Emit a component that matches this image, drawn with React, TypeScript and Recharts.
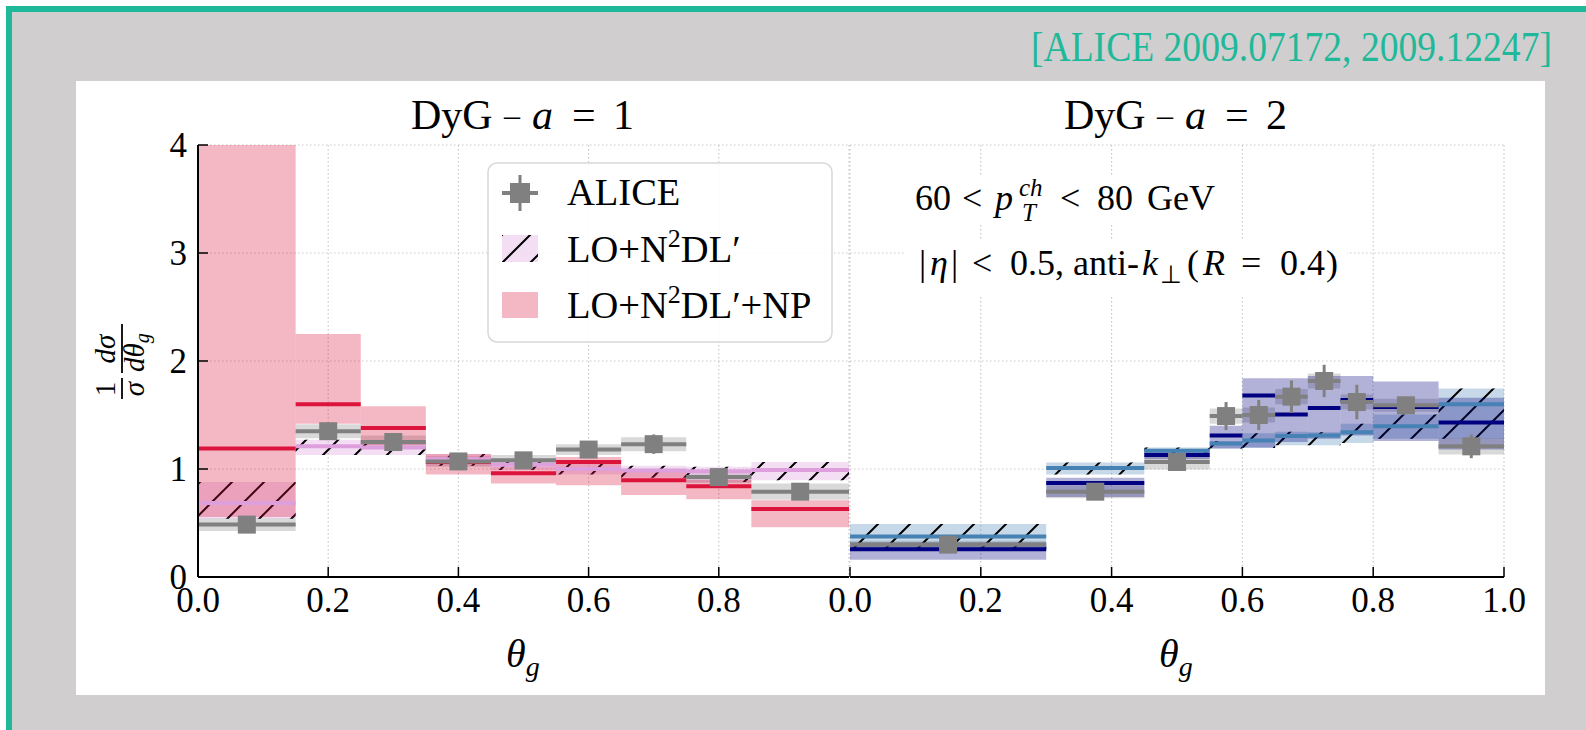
import React from 'react';
import {
  ComposedChart,
  XAxis,
  YAxis,
  CartesianGrid,
  ReferenceArea,
  ReferenceLine,
  Scatter,
  ErrorBar,
} from 'recharts';

const FONT = '"Liberation Serif", "Times New Roman", serif';
const TEAL = '#1fb99a';

// DyG, a = 1
const EDGES_A1 = [0, 0.15, 0.25, 0.35, 0.45, 0.55, 0.65, 0.75, 0.85, 1.0];
const ALICE_A1 = [0.485, 1.35, 1.25, 1.07, 1.08, 1.18, 1.23, 0.925, 0.79];
const ALICE_A1_STAT = [0.04, 0.05, 0.05, 0.04, 0.05, 0.06, 0.09, 0.06, 0.07];
const ALICE_A1_SYS = [0.06, 0.065, 0.06, 0.05, 0.05, 0.05, 0.065, 0.055, 0.075];
const LO_A1 = [0.685, 1.21, 1.2, 1.09, 1.04, 1.0, 0.985, 0.98, 0.99];
const LO_A1_LOW = [0.54, 1.13, 1.13, 1.03, 0.99, 0.95, 0.92, 0.88, 0.895];
const LO_A1_HIGH = [0.88, 1.27, 1.26, 1.14, 1.08, 1.05, 1.03, 1.02, 1.065];
const NP_A1 = [1.19, 1.6, 1.38, 1.065, 0.96, 1.065, 0.895, 0.84, 0.63];
const NP_A1_LOW = [0.555, 1.42, 1.22, 0.95, 0.865, 0.85, 0.76, 0.72, 0.46];
const NP_A1_HIGH = [4.0, 2.25, 1.58, 1.14, 1.02, 1.11, 1.0, 0.9, 0.71];

// DyG, a = 2
const EDGES_A2 = [0, 0.3, 0.45, 0.55, 0.6, 0.65, 0.7, 0.75, 0.8, 0.9, 1.0];
const ALICE_A2 = [0.3, 0.79, 1.065, 1.49, 1.5, 1.67, 1.815, 1.62, 1.59, 1.21];
const ALICE_A2_STAT = [0.03, 0.04, 0.05, 0.13, 0.14, 0.15, 0.15, 0.16, 0.07, 0.11];
const ALICE_A2_SYS = [0.035, 0.06, 0.07, 0.07, 0.07, 0.07, 0.07, 0.07, 0.06, 0.075];
const LO_A2 = [0.375, 1.01, 1.17, 1.235, 1.265, 1.305, 1.31, 1.34, 1.395, 1.6];
const LO_A2_LOW = [0.25, 0.95, 1.14, 1.19, 1.195, 1.22, 1.22, 1.24, 1.28, 1.28];
const LO_A2_HIGH = [0.49, 1.06, 1.2, 1.26, 1.33, 1.345, 1.34, 1.42, 1.505, 1.745];
const NP_A2 = [0.256, 0.87, 1.13, 1.31, 1.68, 1.505, 1.565, 1.64, 1.575, 1.43];
const NP_A2_LOW = [0.16, 0.74, 1.09, 1.19, 1.2, 1.25, 1.28, 1.31, 1.26, 1.18];
const NP_A2_HIGH = [0.32, 0.92, 1.17, 1.4, 1.84, 1.84, 1.86, 1.86, 1.81, 1.66];

const X_TICKS_LEFT = [0, 0.2, 0.4, 0.6, 0.8];
const X_TICKS_RIGHT = [0, 0.2, 0.4, 0.6, 0.8, 1.0];
const Y_TICKS = [0, 1, 2, 3, 4];

type Bin = { lo: number; hi: number; c: number; low: number; high: number };
type Pt = { x: number; y: number; ex: number; ey: number; lo: number; hi: number; sys: number };

const makeBins = (edges: number[], c: number[], low: number[], high: number[]): Bin[] =>
  c.map((v, i) => ({ lo: edges[i], hi: edges[i + 1], c: v, low: low[i], high: high[i] }));

const makePoints = (edges: number[], vals: number[], stat: number[], sys: number[]): Pt[] =>
  vals.map((y, i) => ({
    x: (edges[i] + edges[i + 1]) / 2,
    y,
    ex: (edges[i + 1] - edges[i]) / 2,
    ey: stat[i],
    lo: edges[i],
    hi: edges[i + 1],
    sys: sys[i],
  }));

const Square = (props: any) => {
  const { cx, cy } = props;
  return <rect x={cx - 9} y={cy - 9} width={18} height={18} fill="#808080" />;
};

const axisLine = { stroke: '#000', strokeWidth: 2 };
const tickLine = { stroke: '#000', strokeWidth: 1.5 };
const tickStyle = { fontSize: 35, fontFamily: FONT, fill: '#000', style: { fontFamily: FONT } };

type PanelProps = {
  id: string;
  width: number;
  margin: { top: number; right: number; bottom: number; left: number };
  yAxisWidth: number;
  showYLabels: boolean;
  xTicks: number[];
  points: Pt[];
  lo: Bin[];
  np: Bin[];
  loFill: string;
  loOpacity: number;
  loLine: string;
  npFill: string;
  npOpacity: number;
  npLine: string;
};

const Panel = (p: PanelProps) => (
  <ComposedChart width={p.width} height={600} margin={p.margin}>
    <defs>
      <pattern id={`hatch-${p.id}`} patternUnits="userSpaceOnUse" width={32} height={32}>
        <path d="M-8,8 L8,-8 M0,32 L32,0 M24,40 L40,24" stroke="#000" strokeWidth={2} />
      </pattern>
    </defs>
    <CartesianGrid stroke="#c8c8c8" strokeDasharray="1.5 2.5" strokeWidth={1.2} />
    <XAxis
      dataKey="x"
      type="number"
      domain={[0, 1]}
      ticks={p.xTicks}
      interval={0}
      allowDataOverflow
      height={60}
      tickSize={-10}
      tickMargin={20}
      tickFormatter={(v: number) => v.toFixed(1)}
      tick={tickStyle}
      axisLine={axisLine}
      tickLine={tickLine}
    />
    <XAxis
      xAxisId="top"
      orientation="top"
      type="number"
      domain={[0, 1]}
      ticks={p.xTicks}
      interval={0}
      allowDataOverflow
      height={0}
      tickSize={-10}
      tickFormatter={() => ''}
      axisLine={axisLine}
      tickLine={tickLine}
    />
    <YAxis
      dataKey="y"
      type="number"
      domain={[0, 4]}
      ticks={Y_TICKS}
      interval={0}
      allowDataOverflow
      width={p.yAxisWidth}
      tickSize={-10}
      tickMargin={21}
      tickFormatter={p.showYLabels ? (v: number) => String(v) : () => ''}
      tick={tickStyle}
      axisLine={axisLine}
      tickLine={tickLine}
    />
    <YAxis
      yAxisId="right"
      orientation="right"
      type="number"
      domain={[0, 4]}
      ticks={Y_TICKS}
      interval={0}
      allowDataOverflow
      width={0}
      tickSize={-10}
      tickFormatter={() => ''}
      axisLine={axisLine}
      tickLine={tickLine}
    />

    {p.points.map((d, i) => (
      <ReferenceArea
        key={`sys-${i}`}
        x1={d.lo}
        x2={d.hi}
        y1={d.y - d.sys}
        y2={d.y + d.sys}
        fill="#808080"
        fillOpacity={0.3}
        stroke="none"
      />
    ))}
    {p.lo.map((b, i) => (
      <ReferenceArea key={`lo-${i}`} x1={b.lo} x2={b.hi} y1={b.low} y2={b.high} fill={p.loFill} fillOpacity={p.loOpacity} stroke="none" />
    ))}
    {p.lo.map((b, i) => (
      <ReferenceArea key={`loh-${i}`} x1={b.lo} x2={b.hi} y1={b.low} y2={b.high} fill={`url(#hatch-${p.id})`} fillOpacity={1} stroke="none" />
    ))}
    {p.lo.map((b, i) => (
      <ReferenceLine
        key={`lol-${i}`}
        segment={[
          { x: b.lo, y: b.c },
          { x: b.hi, y: b.c },
        ]}
        stroke={p.loLine}
        strokeWidth={4}
      />
    ))}
    {p.np.map((b, i) => (
      <ReferenceArea key={`np-${i}`} x1={b.lo} x2={b.hi} y1={b.low} y2={b.high} fill={p.npFill} fillOpacity={p.npOpacity} stroke="none" />
    ))}
    {p.np.map((b, i) => (
      <ReferenceLine
        key={`npl-${i}`}
        segment={[
          { x: b.lo, y: b.c },
          { x: b.hi, y: b.c },
        ]}
        stroke={p.npLine}
        strokeWidth={4}
      />
    ))}

    <Scatter data={p.points} fill="#808080" shape={Square} isAnimationActive={false}>
      <ErrorBar dataKey="ex" direction="x" width={0} stroke="#808080" strokeWidth={4} isAnimationActive={false} />
      <ErrorBar dataKey="ey" direction="y" width={0} stroke="#808080" strokeWidth={3} isAnimationActive={false} />
    </Scatter>
  </ComposedChart>
);

const Title = ({ cx, n }: { cx: number; n: string }) => (
  <text y={129} fontSize={42} fill="#000">
    <tspan x={cx - 113}>DyG</tspan>
    <tspan x={cx - 20} fontSize={32} dy={-3}>–</tspan>
    <tspan x={cx + 8} dy={3} fontStyle="italic">a</tspan>
    <tspan x={cx + 48}>=</tspan>
    <tspan x={cx + 89}>{n}</tspan>
  </text>
);

const ThetaLabel = ({ cx }: { cx: number }) => (
  <text x={cx - 18} y={667} fontSize={40} fontStyle="italic" fill="#000">
    θ<tspan fontSize={28} dy={9}>g</tspan>
  </text>
);

export default function App() {
  const ptsA1 = makePoints(EDGES_A1, ALICE_A1, ALICE_A1_STAT, ALICE_A1_SYS);
  const loA1 = makeBins(EDGES_A1, LO_A1, LO_A1_LOW, LO_A1_HIGH);
  const npA1 = makeBins(EDGES_A1, NP_A1, NP_A1_LOW, NP_A1_HIGH);
  const ptsA2 = makePoints(EDGES_A2, ALICE_A2, ALICE_A2_STAT, ALICE_A2_SYS);
  const loA2 = makeBins(EDGES_A2, LO_A2, LO_A2_LOW, LO_A2_HIGH);
  const npA2 = makeBins(EDGES_A2, NP_A2, NP_A2_LOW, NP_A2_HIGH);

  return (
    <div style={{ position: 'absolute', left: 0, top: 0, width: 1586, height: 730, background: '#fff', overflow: 'hidden', fontFamily: FONT }}>
      <div style={{ position: 'absolute', left: 6, top: 6, right: 0, bottom: 0, background: TEAL }} />
      <div style={{ position: 'absolute', left: 12, top: 12, right: 0, bottom: 0, background: '#d0cecf' }} />
      <div style={{ position: 'absolute', left: 76, top: 81, width: 1469, height: 614, background: '#fff' }} />

      <div style={{ position: 'absolute', left: 80, top: 90 }}>
        <Panel
          id="a1"
          width={790}
          margin={{ top: 55, right: 21, bottom: 53, left: 58 }}
          yAxisWidth={60}
          showYLabels
          xTicks={X_TICKS_LEFT}
          points={ptsA1}
          lo={loA1}
          np={npA1}
          loFill="#dda0dd"
          loOpacity={0.35}
          loLine="#dda0dd"
          npFill="#dc143c"
          npOpacity={0.3}
          npLine="#dc143c"
        />
      </div>
      <div style={{ position: 'absolute', left: 800, top: 90 }}>
        <Panel
          id="a2"
          width={740}
          margin={{ top: 55, right: 36, bottom: 53, left: 50 }}
          yAxisWidth={0}
          showYLabels={false}
          xTicks={X_TICKS_RIGHT}
          points={ptsA2}
          lo={loA2}
          np={npA2}
          loFill="#4682b4"
          loOpacity={0.3}
          loLine="#4682b4"
          npFill="#000080"
          npOpacity={0.3}
          npLine="#000080"
        />
      </div>

      <svg width={1586} height={730} style={{ position: 'absolute', left: 0, top: 0, pointerEvents: 'none', fontFamily: FONT }}>
        <defs>
          <pattern id="hatch-legend" patternUnits="userSpaceOnUse" width={28} height={28} x={502} y={235}>
            <path d="M-7,7 L7,-7 M0,28 L28,0 M21,35 L35,21" stroke="#000" strokeWidth={2} />
          </pattern>
        </defs>

        <text transform="translate(1031,61) scale(1,1.12)" fontSize={37.6} fill={TEAL}>
          [ALICE 2009.07172, 2009.12247]
        </text>

        <Title cx={524} n="1" />
        <Title cx={1177} n="2" />
        <ThetaLabel cx={524} />
        <ThetaLabel cx={1177} />

        <g transform="translate(122,361) rotate(-90)" fill="#000">
          <text x={-28} y={-7} fontSize={29} textAnchor="middle">1</text>
          <line x1={-38} x2={-17} y1={0} y2={0} stroke="#000" strokeWidth={1.8} />
          <text x={-28} y={22} fontSize={29} fontStyle="italic" textAnchor="middle">σ</text>
          <text x={12} y={-7} fontSize={29} fontStyle="italic" textAnchor="middle">dσ</text>
          <line x1={-12} x2={37} y1={0} y2={0} stroke="#000" strokeWidth={1.8} />
          <text x={-11} y={22} fontSize={29} fontStyle="italic">
            dθ<tspan fontSize={20} dy={5}>g</tspan>
          </text>
        </g>

        <rect x={488} y={163} width={344} height={179} rx={9} fill="#fff" fillOpacity={0.85} stroke="#d8d8d8" strokeWidth={1.5} />
        <line x1={502} x2={538} y1={193} y2={193} stroke="#808080" strokeWidth={4} />
        <line x1={520} x2={520} y1={175} y2={211} stroke="#808080" strokeWidth={3} />
        <rect x={510} y={183} width={20} height={20} fill="#808080" />
        <rect x={502} y={235} width={36} height={27} fill="#dda0dd" fillOpacity={0.35} />
        <rect x={502} y={235} width={36} height={27} fill="url(#hatch-legend)" />
        <rect x={502} y={292} width={36} height={26} fill="#dc143c" fillOpacity={0.3} />
        <g fontSize={38.5} fill="#000">
          <text x={567} y={205}>ALICE</text>
          <text x={567} y={262}>
            LO+N<tspan fontSize={26} dy={-15}>2</tspan>
            <tspan dy={15}>DL′</tspan>
          </text>
          <text x={567} y={318}>
            LO+N<tspan fontSize={26} dy={-15}>2</tspan>
            <tspan dy={15}>DL′+NP</tspan>
          </text>
        </g>

        <rect x={905} y={175} width={312} height={50} fill="#fff" />
        <rect x={905} y={240} width={442} height={57} fill="#fff" />
        <g fontSize={36} fill="#000">
          <text x={915} y={210}>60</text>
          <text x={962} y={210}>&lt;</text>
          <text x={995} y={210} fontStyle="italic">p</text>
          <text x={1019} y={196} fontSize={25} fontStyle="italic">ch</text>
          <text x={1022} y={221} fontSize={25} fontStyle="italic">T</text>
          <text x={1060} y={210}>&lt;</text>
          <text x={1097} y={210}>80</text>
          <text x={1147} y={210}>GeV</text>

          <text x={919} y={275}>|</text>
          <text x={930} y={275} fontStyle="italic">η</text>
          <text x={951} y={275}>|</text>
          <text x={972} y={275}>&lt;</text>
          <text x={1010} y={275}>0.5,</text>
          <text x={1073} y={275}>anti-</text>
          <text x={1142} y={275} fontStyle="italic">k</text>
          <text x={1160} y={283} fontSize={25}>⊥</text>
          <text x={1187} y={275}>(</text>
          <text x={1203} y={275} fontStyle="italic">R</text>
          <text x={1241} y={275}>=</text>
          <text x={1280} y={275}>0.4</text>
          <text x={1326} y={275}>)</text>
        </g>
      </svg>
    </div>
  );
}
